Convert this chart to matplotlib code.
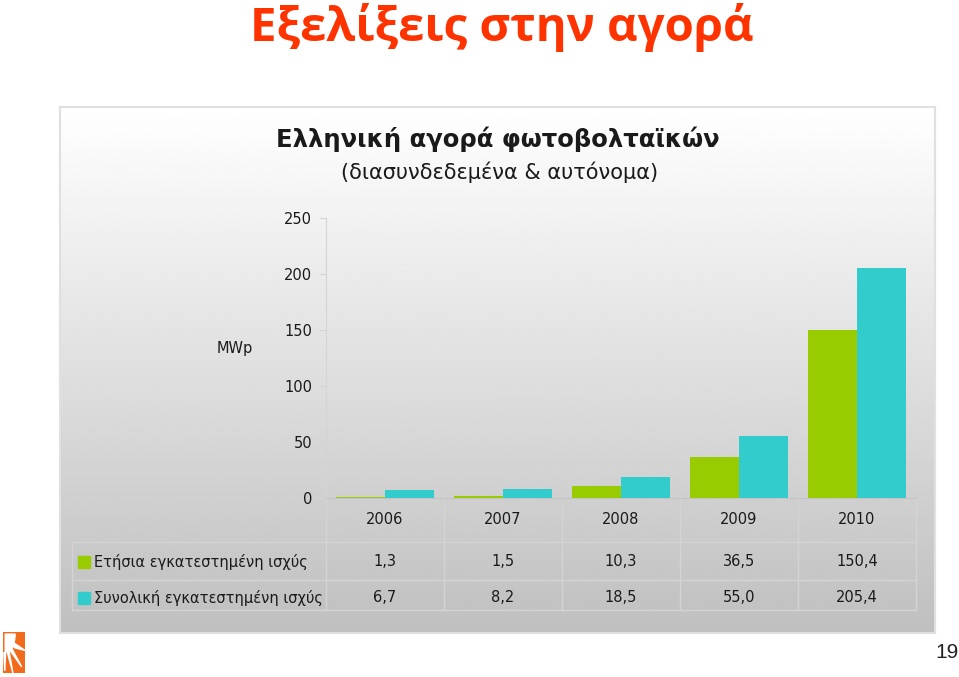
import numpy as np
import matplotlib.pyplot as plt
from matplotlib.patches import Rectangle, Polygon, Wedge
from matplotlib.lines import Line2D

# data
years = ["2006", "2007", "2008", "2009", "2010"]
annual = [1.3, 1.5, 10.3, 36.5, 150.4]
total = [6.7, 8.2, 18.5, 55.0, 205.4]
series_names = ["Ετήσια εγκατεστημένη ισχύς", "Συνολική εγκατεστημένη ισχύς"]
annual_labels = ["1,3", "1,5", "10,3", "36,5", "150,4"]
total_labels = ["6,7", "8,2", "18,5", "55,0", "205,4"]
yticks = [0, 50, 100, 150, 200, 250]

green = "#99CC00"
cyan = "#33CCCC"
grid_col = "#D4D4D4"

W, H = 959, 677
fig = plt.figure(figsize=(W / 100, H / 100), dpi=100)
fig.patch.set_facecolor("white")

def fx(px):
    return px / W

def fy(py):
    return 1 - py / H

# gradient panel behind the chart
bg = fig.add_axes([fx(60), fy(633), fx(935) - fx(60), fy(107) - fy(633)])
grad = np.linspace(1.0, 0.75, 256).reshape(-1, 1)
bg.imshow(grad, aspect="auto", cmap="gray", vmin=0, vmax=1, extent=[0, 1, 0, 1])
bg.set_xticks([])
bg.set_yticks([])
for s in bg.spines.values():
    s.set_color("#E0E0E0")
    s.set_linewidth(1.5)

# main chart axes
ax = fig.add_axes([fx(326), fy(498), fx(916) - fx(326), fy(218) - fy(498)])
ax.set_facecolor("none")
x = np.arange(len(years))
w = 0.415
ax.bar(x - w / 2, annual, width=w, color=green, zorder=3)
ax.bar(x + w / 2, total, width=w, color=cyan, zorder=3)
ax.set_xlim(-0.5, len(years) - 0.5)
ax.set_ylim(0, 250)
ax.set_yticks(yticks)
ax.set_yticklabels([str(t) for t in yticks], fontsize=10.5, color="#1a1a1a")
ax.tick_params(axis="y", length=4, color=grid_col, pad=6)
ax.set_xticks([])
for side in ["top", "right"]:
    ax.spines[side].set_visible(False)
ax.spines["left"].set_color(grid_col)
ax.spines["bottom"].set_color("#C4C4C4")

# table under the chart (axes fraction units in y)
px_per = 280.0
def ay(py):
    return (498 - py) / px_per

line_kw = dict(transform=ax.transAxes, color=grid_col, lw=1, clip_on=False)
bounds = np.linspace(0, 1, len(years) + 1)
for b in bounds:
    ax.add_line(Line2D([b, b], [ay(498), ay(610)], **line_kw))
left_edge = (72 - 326) / 590.0
for py in [542, 580, 610]:
    ax.add_line(Line2D([left_edge, 1], [ay(py), ay(py)], **line_kw))
ax.add_line(Line2D([left_edge, left_edge], [ay(542), ay(610)], **line_kw))

trans = ax.get_xaxis_transform()
for i, yr in enumerate(years):
    ax.text(i, ay(519), yr, transform=trans, ha="center", va="center", fontsize=10.5, color="#1a1a1a")
    ax.text(i, ay(562), annual_labels[i], transform=trans, ha="center", va="center", fontsize=10.5, color="#1a1a1a")
    ax.text(i, ay(598), total_labels[i], transform=trans, ha="center", va="center", fontsize=10.5, color="#1a1a1a")

for row_y, name, col in [(562, series_names[0], green), (598, series_names[1], cyan)]:
    ax.add_patch(Rectangle(((78 - 326) / 590.0, ay(row_y + 6)), 12 / 590.0, 12 / px_per,
                           transform=ax.transAxes, color=col, clip_on=False))
    ax.text((94 - 326) / 590.0, ay(row_y), name, transform=ax.transAxes, ha="left", va="center",
            fontsize=10.5, color="#1a1a1a")

# titles
fig.text(fx(502), fy(27), "Εξελίξεις στην αγορά", ha="center", va="center",
         fontsize=34, fontweight="bold", color="#FF3300", family="Open Sans")
fig.text(fx(498), fy(139), "Ελληνική αγορά φωτοβολταϊκών", ha="center", va="center",
         fontsize=17.5, fontweight="bold", color="#1a1a1a")
fig.text(fx(500), fy(172), "(διασυνδεδεμένα & αυτόνομα)", ha="center", va="center",
         fontsize=15, color="#1a1a1a")
fig.text(fx(235), fy(348), "MWp", ha="center", va="center", fontsize=10.5, color="#1a1a1a")

# page number
fig.text(fx(947), fy(652), "19", ha="center", va="center", fontsize=15, color="#222222",
         family="Liberation Sans")

# logo
logo = fig.add_axes([fx(3), fy(673), fx(25) - fx(3), fy(632) - fy(673)])
logo.set_xlim(0, 1)
logo.set_ylim(0, 1)
logo.axis("off")
logo.add_patch(Rectangle((0, 0), 1, 1, color="#F26B1D"))
logo.add_patch(Wedge((0.1, 0.95), 0.45, 270, 360, color="white"))
for pts in [[[0.45, 0.75], [1.0, 0.55], [0.5, 0.62]],
            [[0.4, 0.6], [0.85, 0.15], [0.32, 0.55]],
            [[0.28, 0.52], [0.45, 0.0], [0.2, 0.5]],
            [[0.12, 0.5], [0.08, 0.05], [0.04, 0.5]]]:
    logo.add_patch(Polygon(pts, color="white"))

fig.savefig("out.png", dpi=100)
